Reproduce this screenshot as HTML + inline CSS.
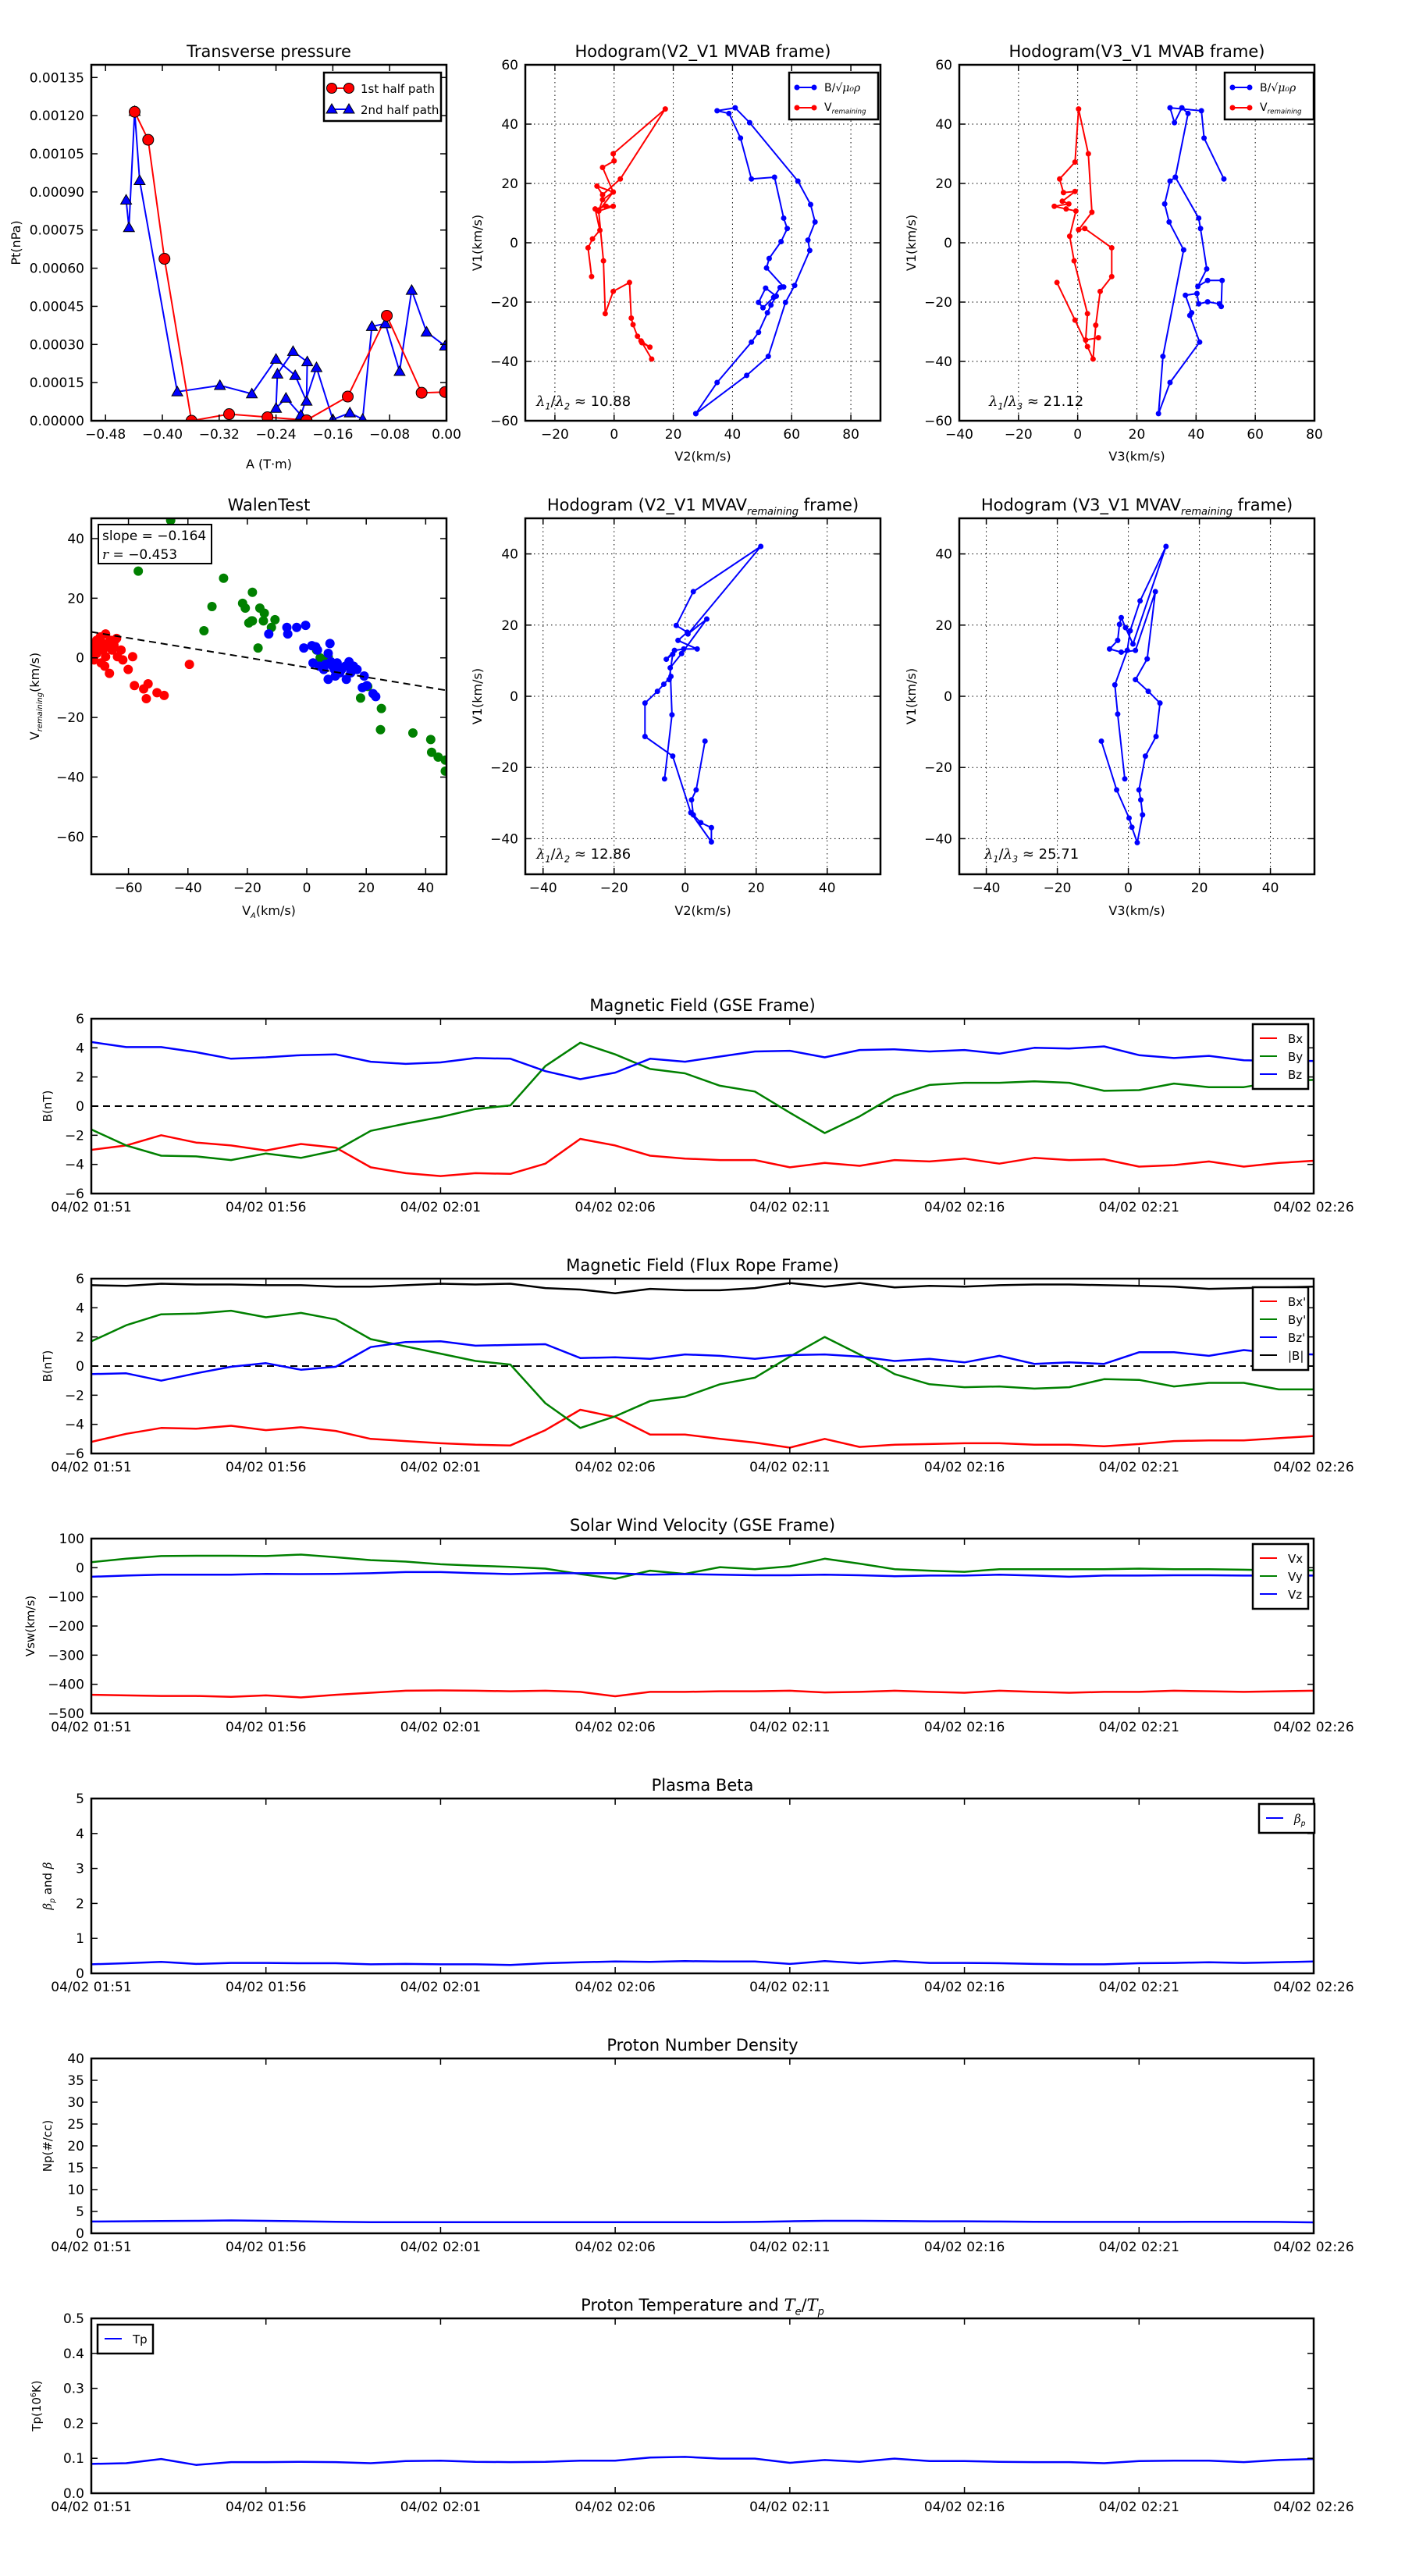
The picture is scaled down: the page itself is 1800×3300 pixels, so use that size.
<!DOCTYPE html>
<html><head><meta charset="utf-8"><title>Flux rope analysis</title>
<style>
html,body{margin:0;padding:0;background:#fff;}
svg{display:block;font-family:"DejaVu Sans","Liberation Sans",sans-serif;}
</style></head>
<body>
<svg id="fig" xmlns="http://www.w3.org/2000/svg" width="1800" height="3300" viewBox="0 0 1800 3300">
<rect x="0" y="0" width="1800" height="3300" fill="#fff"/>
</svg>
<script>
// ---------- data: transverse pressure ----------
const pt1A = [-0.439,-0.420,-0.397,-0.359,-0.306,-0.252,-0.197,-0.139,-0.084,-0.035,-0.002];
const pt1P = [0.001215,0.001105,0.000637,0.0,0.000026,0.000014,0.000002,0.000095,0.000413,0.000110,0.000113];
const pt2A = [-0.451,-0.447,-0.439,-0.432,-0.379,-0.319,-0.274,-0.240,-0.213,-0.197,-0.196,-0.216,-0.238,-0.240,-0.226,-0.205,-0.183,-0.160,-0.136,-0.118,-0.105,-0.086,-0.066,-0.049,-0.028,-0.002];
const pt2P = [0.000868,0.00076,0.001217,0.000945,0.000114,0.000139,0.000106,0.000242,0.000178,0.000077,0.000232,0.000273,0.000184,0.000049,0.000089,0.000022,0.000209,0.000005,0.000031,0.000006,0.000371,0.000382,0.000194,0.000513,0.000349,0.000294];
// ---------- hodogram MVAB V2-V1 ----------
const h1bV2 = [27.6,34.8,46.4,48.8,51.8,53.0,54.8,51.2,48.8,50.3,53.9,56.1,57.3,51.5,52.4,56.4,58.5,57.3,54.2,46.4,42.7,38.8,34.8,40.9,45.8,62.1,66.4,67.9,65.5,66.1,61.0,57.9,52.1,44.8,27.6];
const h1bV1 = [-57.6,-47.1,-33.5,-30.2,-23.6,-21.0,-18.0,-15.3,-20.1,-21.9,-18.4,-15.1,-14.9,-8.5,-5.3,0.4,4.8,8.3,22.1,21.5,35.3,43.6,44.5,45.5,40.5,20.8,12.9,7.0,0.9,-2.6,-14.4,-20.1,-38.3,-44.7,-57.6];
const h1rV2 = [-7.6,-8.8,-7.3,-4.8,-6.4,-2.7,-0.3,-5.2,-3.9,-0.3,-5.8,-3.9,2.1,17.3,-0.3,0.0,-3.9,-0.3,-5.2,-3.6,-3.0,-0.3,5.2,5.8,6.4,7.9,9.4,12.1,9.1,12.7];
const h1rV1 = [-11.4,-1.7,1.3,4.2,11.4,12.3,12.3,10.7,14.5,17.1,19.1,16.2,21.5,45.1,30.0,27.6,25.4,17.1,10.7,-6.1,-23.9,-16.4,-13.4,-25.4,-27.6,-31.5,-33.7,-35.2,-33.1,-39.2];
// ---------- hodogram MVAB V3-V1 ----------
const h2bV3 = [49.4,42.7,41.8,31.2,32.7,35.2,37.3,33.0,31.2,29.4,30.9,35.8,28.8,27.3,31.2,41.2,37.9,38.5,36.4,40.3,40.9,43.9,47.9,48.5,48.8,43.9,40.6,43.6,41.5,40.9,33.0];
const h2bV1 = [21.5,35.3,44.5,45.5,40.5,45.5,43.6,22.1,20.8,13.1,7.0,-2.4,-38.3,-57.6,-47.1,-33.5,-24.5,-23.6,-17.7,-17.1,-20.6,-19.9,-20.6,-21.5,-12.7,-12.7,-14.7,-8.8,4.8,8.3,22.1];
const h2rV3 = [-7.0,-0.9,3.3,5.2,6.1,7.6,11.5,11.5,2.4,0.3,4.8,3.6,0.3,-0.9,-6.1,-4.8,-0.9,-5.2,-3.0,-7.9,-3.9,-0.6,-2.7,-1.2,3.3,2.7,7.0];
const h2rV1 = [-13.4,-26.1,-35.0,-39.2,-27.8,-16.4,-11.4,-1.7,4.8,4.4,10.3,30.0,45.1,27.2,21.5,16.9,17.3,14.0,13.1,12.3,11.4,10.7,2.2,-6.1,-23.9,-32.8,-32.0];
// ---------- Walen test ----------
const wRedX = [-71.6,-70.7,-69.5,-68.6,-67.7,-67.0,-66.1,-65.5,-67.7,-69.2,-70.7,-71.9,-64.6,-64.0,-62.5,-61.9,-63.7,-68.0,-66.4,-60.1,-58.6,-58.0,-54.9,-53.4,-54.0,-50.4,-48.0,-39.5,-71.6,-70.1,-64.9,-68.3];
const wRedY = [4.8,5.9,7.0,2.6,8.0,3.7,5.9,2.6,0.4,-1.7,1.5,2.0,5.9,6.5,2.6,-0.7,0.4,-2.8,-5.2,-3.9,0.4,-9.3,-10.4,-8.7,-13.7,-11.7,-12.6,-2.2,-0.7,3.7,4.3,4.8];
const wGreenX = [-45.8,-56.7,-28.0,-31.9,-34.6,-21.6,-20.7,-18.3,-15.8,-14.3,-19.5,-18.3,-14.6,-10.7,-11.9,-16.4,3.3,4.5,5.7,18.1,20.5,25.1,24.8,35.7,41.7,42.0,44.2,46.6,46.6,2.7,7.2,-18.6];
const wGreenY = [46.1,29.1,26.7,17.2,9.1,18.3,16.7,22.0,16.7,15.0,11.7,12.4,12.4,12.8,10.2,3.3,2.6,0.0,-1.7,-13.5,-9.6,-17.0,-24.1,-25.2,-27.4,-31.7,-33.3,-34.3,-38.0,3.7,0.4,12.4];
const wBlueX = [-12.8,-6.7,-6.4,-3.4,-0.4,-1.0,1.7,3.0,3.6,7.8,7.2,2.1,4.2,6.3,8.1,9.3,10.2,11.7,13.0,14.2,14.8,9.6,7.2,13.3,16.9,19.3,20.2,18.7,22.3,23.2,5.7,11.1,8.7,15.7];
const wBlueY = [8.0,10.2,8.0,10.2,10.9,3.3,4.1,3.7,2.6,4.8,1.5,-1.7,-2.8,-2.2,-1.3,-3.9,-1.7,-3.9,-2.8,-1.3,-5.0,-6.1,-7.2,-7.2,-3.9,-6.1,-9.3,-10.0,-12.0,-13.0,-3.9,-5.0,-2.8,-2.8];
const walenSlope = -0.164;
const walenIntercept = -3.2;
// ---------- hodogram MVAV V2-V1 ----------
const h3V2 = [5.6,3.1,1.8,2.3,4.4,7.4,7.4,1.6,-3.5,-11.3,-11.3,-7.8,-6.0,-4.0,-4.5,-3.5,-5.3,-3.0,-0.4,3.4,-2.0,0.6,-2.5,2.3,21.3,0.8,6.1,-1.0,-4.2,-3.7,-5.8];
const h3V1 = [-12.6,-26.3,-29.1,-33.3,-35.5,-36.9,-40.9,-32.7,-16.8,-11.3,-1.9,1.4,3.4,5.6,4.7,11.8,10.4,12.9,13.3,13.3,15.7,18.0,19.9,29.4,42.1,17.5,21.7,12.0,8.0,-5.2,-23.2];
// ---------- hodogram MVAV V3-V1 ----------
const h4V3 = [-7.6,-3.3,0.2,1.0,2.5,4.0,3.5,3.0,4.8,7.8,8.9,5.6,2.0,5.3,7.6,2.0,-2.0,-5.3,-3.0,-2.5,-2.0,-0.8,1.3,10.6,3.3,0.5,-0.3,-3.8,-3.0,-1.0];
const h4V1 = [-12.6,-26.3,-34.2,-36.8,-41.1,-33.3,-29.1,-26.3,-16.8,-11.3,-1.9,1.4,4.7,10.5,29.4,12.9,12.4,13.3,15.7,20.2,22.1,19.3,14.7,42.1,26.8,18.4,12.9,3.2,-5.0,-23.2];
// ---------- time series (1-min samples from 01:51) ----------
const timeLabels = ["04/02 01:51","04/02 01:56","04/02 02:01","04/02 02:06","04/02 02:11","04/02 02:16","04/02 02:21","04/02 02:26"];
const gseBx = [-3.0,-2.7,-2.0,-2.5,-2.7,-3.05,-2.6,-2.85,-4.2,-4.6,-4.8,-4.6,-4.65,-3.95,-2.25,-2.7,-3.4,-3.6,-3.7,-3.7,-4.2,-3.9,-4.1,-3.7,-3.8,-3.6,-3.95,-3.55,-3.7,-3.65,-4.15,-4.05,-3.8,-4.15,-3.9,-3.75];
const gseBy = [-1.6,-2.7,-3.4,-3.45,-3.7,-3.25,-3.55,-3.05,-1.7,-1.2,-0.75,-0.2,0.05,2.75,4.35,3.55,2.55,2.25,1.4,1.0,-0.45,-1.85,-0.7,0.7,1.45,1.6,1.6,1.7,1.6,1.05,1.1,1.55,1.3,1.3,1.7,1.8];
const gseBz = [4.4,4.05,4.05,3.7,3.25,3.35,3.5,3.55,3.05,2.9,3.0,3.3,3.25,2.4,1.85,2.3,3.25,3.05,3.4,3.75,3.8,3.35,3.85,3.9,3.75,3.85,3.6,4.0,3.95,4.1,3.5,3.3,3.45,3.15,3.1,3.1];
const frBx = [-5.2,-4.65,-4.25,-4.3,-4.1,-4.4,-4.2,-4.45,-5.0,-5.15,-5.3,-5.4,-5.45,-4.4,-3.0,-3.5,-4.7,-4.7,-5.0,-5.25,-5.6,-5.0,-5.55,-5.4,-5.35,-5.3,-5.3,-5.4,-5.4,-5.5,-5.35,-5.15,-5.1,-5.1,-4.95,-4.8];
const frBy = [1.7,2.8,3.55,3.6,3.8,3.35,3.65,3.2,1.85,1.35,0.85,0.35,0.1,-2.55,-4.25,-3.45,-2.4,-2.1,-1.25,-0.8,0.65,2.0,0.8,-0.55,-1.25,-1.45,-1.4,-1.55,-1.45,-0.9,-0.95,-1.4,-1.15,-1.15,-1.6,-1.6];
const frBz = [-0.55,-0.5,-1.0,-0.5,-0.05,0.2,-0.25,-0.05,1.3,1.65,1.7,1.4,1.45,1.5,0.55,0.6,0.5,0.8,0.7,0.5,0.75,0.8,0.65,0.35,0.5,0.25,0.7,0.15,0.25,0.15,0.95,0.95,0.7,1.1,0.85,0.8];
const frBt = [5.55,5.5,5.65,5.6,5.6,5.55,5.55,5.45,5.45,5.55,5.65,5.6,5.65,5.35,5.25,5.0,5.3,5.2,5.2,5.35,5.7,5.45,5.7,5.4,5.5,5.45,5.55,5.6,5.6,5.55,5.5,5.45,5.3,5.35,5.4,5.45];
const vx = [-436,-438,-440,-440,-443,-438,-445,-436,-429,-422,-421,-422,-424,-422,-426,-441,-426,-426,-424,-424,-422,-428,-426,-422,-426,-429,-422,-426,-429,-426,-426,-422,-424,-426,-424,-422];
const vy = [19,31,40,41,41,40,45,36,26,21,12,7,3,-3,-22,-38,-10,-21,2,-5,5,31,14,-5,-10,-14,-5,-5,-5,-5,-3,-5,-5,-7,-9,-9];
const vz = [-31,-27,-24,-24,-24,-21,-22,-21,-19,-15,-15,-19,-22,-19,-19,-19,-24,-22,-24,-26,-26,-24,-26,-29,-27,-27,-24,-27,-31,-27,-27,-26,-26,-27,-27,-27];
const betaP = [0.26,0.29,0.33,0.27,0.30,0.30,0.29,0.29,0.26,0.27,0.26,0.26,0.24,0.29,0.32,0.34,0.33,0.35,0.34,0.34,0.27,0.35,0.29,0.35,0.30,0.30,0.29,0.27,0.26,0.26,0.29,0.30,0.32,0.30,0.32,0.34];
const np = [2.7,2.75,2.8,2.85,2.95,2.85,2.75,2.65,2.55,2.55,2.55,2.55,2.55,2.55,2.55,2.55,2.55,2.55,2.55,2.6,2.75,2.85,2.85,2.8,2.75,2.75,2.7,2.65,2.6,2.6,2.6,2.6,2.65,2.65,2.6,2.5];
const tp = [0.084,0.086,0.098,0.081,0.089,0.089,0.090,0.089,0.086,0.092,0.093,0.090,0.089,0.090,0.093,0.093,0.102,0.104,0.099,0.099,0.087,0.095,0.090,0.099,0.092,0.092,0.090,0.089,0.089,0.086,0.092,0.093,0.093,0.089,0.095,0.098];

const NS = "http://www.w3.org/2000/svg";
const svg = document.getElementById('fig');
let clipId = 0;
function mk(tag, attrs, parent, name) {
  const e = document.createElementNS(NS, tag);
  for (const k in attrs) e.setAttribute(k, attrs[k]);
  
  
  parent.appendChild(e);
  return e;
}
function txt(parent, x, y, s, size, anchor, name, extra) {
  const t = mk('text', Object.assign({x: x, y: y, 'font-size': size, 'text-anchor': anchor || 'middle', fill: '#000'}, extra || {}), parent, name);
  t.textContent = s;
  return t;
}
function richText(parent, x, y, parts, size, anchor, name, extra) {
  const t = mk('text', Object.assign({x: x, y: y, 'font-size': size, 'text-anchor': anchor || 'middle', fill: '#000'}, extra || {}), parent, name);
  parts.forEach(p => {
    const s = document.createElementNS(NS, 'tspan');
    s.textContent = p[0];
    if (p[1] === 'sub') { s.setAttribute('font-size', size * 0.62); s.setAttribute('font-style', 'italic'); s.setAttribute('dy', size * 0.25); }
    if (p[1] === 'up') { s.setAttribute('dy', -size * 0.25); }
    if (p[1] === 'it') { s.setAttribute('font-style', 'italic'); s.setAttribute('font-family', 'DejaVu Serif, serif'); }
    if (p[1] === 'sup') { s.setAttribute('font-size', size * 0.62); s.setAttribute('dy', -size * 0.4); }
    if (p[1] === 'down') { s.setAttribute('dy', size * 0.4); }
    
    
    t.appendChild(s);
  });
  return t;
}
function axes(o) {
  const g = mk('g', {}, svg, o.name);
  const sx = v => o.x + (v - o.xmin) / (o.xmax - o.xmin) * o.w;
  const sy = v => o.y + o.h - (v - o.ymin) / (o.ymax - o.ymin) * o.h;
  clipId++;
  const cp = mk('clipPath', {id: 'c' + clipId}, g, 'clip');
  mk('rect', {x: o.x, y: o.y, width: o.w, height: o.h}, cp, 'clip-rect');
  const grid = mk('g', {}, g, 'grid');
  const data = mk('g', {'clip-path': 'url(#c' + clipId + ')'}, g, 'plot-area');
  const tk = mk('g', {stroke: '#000', 'stroke-width': 1.5}, g, 'ticks');
  o.xticks.forEach((v, i) => {
    const X = sx(v);
    mk('line', {x1: X, x2: X, y1: o.y + o.h, y2: o.y + o.h - 8}, tk, 'x-tick');
    mk('line', {x1: X, x2: X, y1: o.y, y2: o.y + 8}, tk, 'x-tick-top');
    if (o.grid) mk('line', {x1: X, x2: X, y1: o.y, y2: o.y + o.h, stroke: '#000', 'stroke-width': 1, 'stroke-dasharray': '1.5,4'}, grid, 'x-grid');
    txt(g, X, o.y + o.h + 23, o.xfmt(v, i), 17, 'middle', 'x-tick-label');
  });
  o.yticks.forEach((v, i) => {
    const Y = sy(v);
    mk('line', {x1: o.x, x2: o.x + 8, y1: Y, y2: Y}, tk, 'y-tick');
    mk('line', {x1: o.x + o.w, x2: o.x + o.w - 8, y1: Y, y2: Y}, tk, 'y-tick-right');
    if (o.grid) mk('line', {x1: o.x, x2: o.x + o.w, y1: Y, y2: Y, stroke: '#000', 'stroke-width': 1, 'stroke-dasharray': '1.5,4'}, grid, 'y-grid');
    txt(g, o.x - 9, Y + 6, o.yfmt(v, i), 17, 'end', 'y-tick-label');
  });
  const frame = mk('rect', {x: o.x, y: o.y, width: o.w, height: o.h, fill: 'none', stroke: '#000', 'stroke-width': 2.5}, g, 'axes-frame');
  return {g, data, sx, sy, frame};
}
function line(ax, xs, ys, color, name, w, dash) {
  const pts = xs.map((v, i) => ax.sx(v).toFixed(1) + ',' + ax.sy(ys[i]).toFixed(1)).join(' ');
  const a = {points: pts, fill: 'none', stroke: color, 'stroke-width': w || 2, 'stroke-linejoin': 'round'};
  if (dash) a['stroke-dasharray'] = dash;
  return mk('polyline', a, ax.data, name);
}
function dots(ax, xs, ys, color, r, name, stroke) {
  xs.forEach((v, i) => {
    const a = {cx: ax.sx(v), cy: ax.sy(ys[i]), r: r, fill: color};
    if (stroke) { a.stroke = '#000'; a['stroke-width'] = 1; }
    mk('circle', a, ax.data, name);
  });
}
function tris(ax, xs, ys, color, s, name) {
  xs.forEach((v, i) => {
    const X = ax.sx(v), Y = ax.sy(ys[i]);
    mk('polygon', {points: `${X},${Y - s} ${X - s},${Y + s * 0.75} ${X + s},${Y + s * 0.75}`, fill: color, stroke: '#000', 'stroke-width': 1}, ax.data, name);
  });
}
function ylabel(x, y, parts, size, name) {
  const t = richText(svg, x, y, parts, size, 'middle', name, {transform: `rotate(-90 ${x} ${y})`});
  return t;
}
function range(a, b, s) { const r = []; for (let v = a; v <= b + 1e-9; v += s) r.push(+v.toFixed(6)); return r; }
function legendBox(x, y, w, h, name) {
  return mk('rect', {x: x, y: y, width: w, height: h, fill: '#fff', stroke: '#000', 'stroke-width': 2.5}, svg, name);
}

// ===== Row 1 =====
const C = [117, 673, 1229], W = 455;
const R1 = 83, R2 = 664, H = 456;

// Transverse pressure
txt(svg, C[0] + W / 2, R1 - 10, 'Transverse pressure', 21, 'middle', 'title-transverse-pressure');
const a1 = axes({name: 'transverse-pressure-chart', x: C[0], y: R1, w: W, h: H, xmin: -0.5, xmax: 0, ymin: 0, ymax: 0.0014,
  xticks: range(-0.48, 0, 0.08), yticks: range(0, 0.00135, 0.00015),
  xfmt: v => (v === 0 ? '0.00' : '\u2212' + Math.abs(v).toFixed(2)), yfmt: v => v.toFixed(5)});
line(a1, pt2A, pt2P, '#0000ff', 'second-half-path-line', 2);
line(a1, pt1A, pt1P, '#ff0000', 'first-half-path-line', 2);
tris(a1, pt2A, pt2P, '#0000ff', 7, 'second-half-marker');
dots(a1, pt1A, pt1P, '#ff0000', 7, 'first-half-marker', true);
txt(svg, C[0] + W / 2, 600, 'A (T\u00b7m)', 16, 'middle', 'x-axis-title-A');
ylabel(26, R1 + H / 2, [['Pt(nPa)']], 16, 'y-axis-title-pt');
legendBox(415, 93, 150, 62, 'legend-transverse');
mk('line', {x1: 425, x2: 447, y1: 113, y2: 113, stroke: '#ff0000', 'stroke-width': 2}, svg, 'legend-line-first');
mk('circle', {cx: 425, cy: 113, r: 6.5, fill: '#ff0000', stroke: '#000'}, svg, 'legend-marker-first');
mk('circle', {cx: 447, cy: 113, r: 6.5, fill: '#ff0000', stroke: '#000'}, svg, 'legend-marker-first');
txt(svg, 462, 119, '1st half path', 15, 'start', 'legend-entry-first');
mk('line', {x1: 425, x2: 447, y1: 140, y2: 140, stroke: '#0000ff', 'stroke-width': 2}, svg, 'legend-line-second');
mk('polygon', {points: '425,133 418,145 432,145', fill: '#0000ff', stroke: '#000'}, svg, 'legend-marker-second');
mk('polygon', {points: '447,133 440,145 454,145', fill: '#0000ff', stroke: '#000'}, svg, 'legend-marker-second');
txt(svg, 462, 146, '2nd half path', 15, 'start', 'legend-entry-second');

// Hodogram MVAB V2-V1
function hodoLegend(x, name) {
  legendBox(x, 93, 114, 60, name);
  mk('line', {x1: x + 10, x2: x + 32, y1: 112, y2: 112, stroke: '#0000ff', 'stroke-width': 2}, svg, 'legend-line-b');
  mk('circle', {cx: x + 10, cy: 112, r: 3.5, fill: '#0000ff'}, svg, 'legend-marker-b');
  mk('circle', {cx: x + 32, cy: 112, r: 3.5, fill: '#0000ff'}, svg, 'legend-marker-b');
  richText(svg, x + 45, 117, [['B/\u221a'], ['\u03bc\u2080\u03c1', 'it']], 14, 'start', 'legend-entry-b');
  mk('line', {x1: x + 10, x2: x + 32, y1: 138, y2: 138, stroke: '#ff0000', 'stroke-width': 2}, svg, 'legend-line-v');
  mk('circle', {cx: x + 10, cy: 138, r: 3.5, fill: '#ff0000'}, svg, 'legend-marker-v');
  mk('circle', {cx: x + 32, cy: 138, r: 3.5, fill: '#ff0000'}, svg, 'legend-marker-v');
  richText(svg, x + 45, 142, [['V'], ['remaining', 'sub']], 14, 'start', 'legend-entry-v');
}
txt(svg, C[1] + W / 2, R1 - 10, 'Hodogram(V2_V1 MVAB frame)', 21, 'middle', 'title-hodogram-v2-mvab');
const a2 = axes({name: 'hodogram-v2-mvab', x: C[1], y: R1, w: W, h: H, xmin: -30, xmax: 90, ymin: -60, ymax: 60, grid: true,
  xticks: range(-20, 80, 20), yticks: range(-60, 60, 20), xfmt: v => (v < 0 ? '\u2212' + (-v) : '' + v), yfmt: v => (v < 0 ? '\u2212' + (-v) : '' + v)});
line(a2, h1bV2, h1bV1, '#0000ff', 'b-hodogram-line', 2);
dots(a2, h1bV2, h1bV1, '#0000ff', 3.5, 'b-hodogram-point');
line(a2, h1rV2, h1rV1, '#ff0000', 'v-hodogram-line', 2);
dots(a2, h1rV2, h1rV1, '#ff0000', 3.5, 'v-hodogram-point');
richText(svg, C[1] + 14, 520, [['\u03bb', 'it'], ['1', 'sub'], ['/', 'up'], ['\u03bb', 'it'], ['2', 'sub'], [' \u2248 10.88', 'up']], 18, 'start', 'eigen-ratio-1');
txt(svg, C[1] + W / 2, 590, 'V2(km/s)', 16, 'middle', 'x-axis-title-v2');
ylabel(617, R1 + H / 2, [['V1(km/s)']], 16, 'y-axis-title-v1');
hodoLegend(1011, 'legend-hodogram-1');

txt(svg, C[2] + W / 2, R1 - 10, 'Hodogram(V3_V1 MVAB frame)', 21, 'middle', 'title-hodogram-v3-mvab');
const a3 = axes({name: 'hodogram-v3-mvab', x: C[2], y: R1, w: W, h: H, xmin: -40, xmax: 80, ymin: -60, ymax: 60, grid: true,
  xticks: range(-40, 80, 20), yticks: range(-60, 60, 20), xfmt: v => (v < 0 ? '\u2212' + (-v) : '' + v), yfmt: v => (v < 0 ? '\u2212' + (-v) : '' + v)});
line(a3, h2bV3, h2bV1, '#0000ff', 'b-hodogram-line', 2);
dots(a3, h2bV3, h2bV1, '#0000ff', 3.5, 'b-hodogram-point');
line(a3, h2rV3, h2rV1, '#ff0000', 'v-hodogram-line', 2);
dots(a3, h2rV3, h2rV1, '#ff0000', 3.5, 'v-hodogram-point');
richText(svg, C[2] + 38, 520, [['\u03bb', 'it'], ['1', 'sub'], ['/', 'up'], ['\u03bb', 'it'], ['3', 'sub'], [' \u2248 21.12', 'up']], 18, 'start', 'eigen-ratio-2');
txt(svg, C[2] + W / 2, 590, 'V3(km/s)', 16, 'middle', 'x-axis-title-v3');
ylabel(1173, R1 + H / 2, [['V1(km/s)']], 16, 'y-axis-title-v1b');
hodoLegend(1569, 'legend-hodogram-2');

// ===== Row 2 =====
txt(svg, C[0] + W / 2, R2 - 10, 'WalenTest', 21, 'middle', 'title-walen-test');
const a4 = axes({name: 'walen-test-chart', x: C[0], y: R2, w: W, h: H, xmin: -72.5, xmax: 47, ymin: -72.6, ymax: 46.8,
  xticks: range(-60, 40, 20), yticks: range(-60, 40, 20), xfmt: v => (v < 0 ? '\u2212' + (-v) : '' + v), yfmt: v => (v < 0 ? '\u2212' + (-v) : '' + v)});
dots(a4, wRedX, wRedY, '#ff0000', 6, 'walen-point-red');
dots(a4, wGreenX, wGreenY, '#008000', 6, 'walen-point-green');
dots(a4, wBlueX, wBlueY, '#0000ff', 6, 'walen-point-blue');
line(a4, [-72.5, 47], [walenIntercept + walenSlope * -72.5, walenIntercept + walenSlope * 47], '#000', 'walen-fit-line', 2, '9,6');
mk('rect', {x: 126, y: 672, width: 145, height: 50, fill: '#fff', stroke: '#000', 'stroke-width': 2}, svg, 'walen-stats-box');
txt(svg, 131, 692, 'slope = \u22120.164', 17, 'start', 'walen-slope');
richText(svg, 131, 716, [['r', 'it'], [' = \u22120.453']], 17, 'start', 'walen-r');
richText(svg, C[0] + W / 2, 1172, [['V'], ['A', 'sub'], ['(km/s)', 'up']], 16, 'middle', 'x-axis-title-va');
ylabel(50, R2 + H / 2, [['V'], ['remaining', 'sub'], ['(km/s)', 'up']], 16, 'y-axis-title-vrem');

richText(svg, C[1] + W / 2, R2 - 10, [['Hodogram (V2_V1 MVAV'], ['remaining', 'sub'], [' frame)', 'up']], 21, 'middle', 'title-hodogram-v2-mvav');
const a5 = axes({name: 'hodogram-v2-mvav', x: C[1], y: R2, w: W, h: H, xmin: -45, xmax: 55, ymin: -50, ymax: 50, grid: true,
  xticks: range(-40, 40, 20), yticks: range(-40, 40, 20), xfmt: v => (v < 0 ? '\u2212' + (-v) : '' + v), yfmt: v => (v < 0 ? '\u2212' + (-v) : '' + v)});
line(a5, h3V2, h3V1, '#0000ff', 'mvav-hodogram-line', 2);
dots(a5, h3V2, h3V1, '#0000ff', 3.5, 'mvav-hodogram-point');
richText(svg, C[1] + 14, 1100, [['\u03bb', 'it'], ['1', 'sub'], ['/', 'up'], ['\u03bb', 'it'], ['2', 'sub'], [' \u2248 12.86', 'up']], 18, 'start', 'eigen-ratio-3');
txt(svg, C[1] + W / 2, 1172, 'V2(km/s)', 16, 'middle', 'x-axis-title-v2b');
ylabel(617, R2 + H / 2, [['V1(km/s)']], 16, 'y-axis-title-v1c');

richText(svg, C[2] + W / 2, R2 - 10, [['Hodogram (V3_V1 MVAV'], ['remaining', 'sub'], [' frame)', 'up']], 21, 'middle', 'title-hodogram-v3-mvav');
const a6 = axes({name: 'hodogram-v3-mvav', x: C[2], y: R2, w: W, h: H, xmin: -47.6, xmax: 52.4, ymin: -50, ymax: 50, grid: true,
  xticks: range(-40, 40, 20), yticks: range(-40, 40, 20), xfmt: v => (v < 0 ? '\u2212' + (-v) : '' + v), yfmt: v => (v < 0 ? '\u2212' + (-v) : '' + v)});
line(a6, h4V3, h4V1, '#0000ff', 'mvav-hodogram-line', 2);
dots(a6, h4V3, h4V1, '#0000ff', 3.5, 'mvav-hodogram-point');
richText(svg, C[2] + 32, 1100, [['\u03bb', 'it'], ['1', 'sub'], ['/', 'up'], ['\u03bb', 'it'], ['3', 'sub'], [' \u2248 25.71', 'up']], 18, 'start', 'eigen-ratio-4');
txt(svg, C[2] + W / 2, 1172, 'V3(km/s)', 16, 'middle', 'x-axis-title-v3b');
ylabel(1173, R2 + H / 2, [['V1(km/s)']], 16, 'y-axis-title-v1d');

// ===== Time series =====
const TL = 117, TW = 1566, TH = 224;
const tops = [1305, 1638, 1971, 2304, 2637, 2970];
const mins = gseBx.map((_, i) => i);
function tsAxes(k, name, ymin, ymax, yt, yfmt) {
  return axes({name: name, x: TL, y: tops[k], w: TW, h: TH, xmin: 0, xmax: 35, ymin: ymin, ymax: ymax,
    xticks: range(0, 35, 5), yticks: yt, xfmt: (v, i) => timeLabels[i], yfmt: yfmt});
}
const neg = v => (v < 0 ? '\u2212' + (-v) : '' + v);
function tsLegend(x, y, entries, name) {
  const w = 71, h = 14 + entries.length * 23;
  legendBox(x, y, w, h, name);
  entries.forEach((e, i) => {
    const yy = y + 18 + i * 23;
    mk('line', {x1: x + 9, x2: x + 31, y1: yy, y2: yy, stroke: e[1], 'stroke-width': 2}, svg, 'legend-line');
    const t = richText(svg, x + 45, yy + 6, e[0], 15, 'start', 'legend-entry');
  });
}

txt(svg, TL + TW / 2, tops[0] - 10, 'Magnetic Field (GSE Frame)', 21, 'middle', 'title-b-gse');
const t1 = tsAxes(0, 'b-gse-chart', -6, 6, range(-6, 6, 2), neg);
line(t1, [0, 35], [0, 0], '#000', 'zero-line', 2, '9,6');
line(t1, mins, gseBx, '#ff0000', 'bx-line', 2.5);
line(t1, mins, gseBy, '#008000', 'by-line', 2.5);
line(t1, mins, gseBz, '#0000ff', 'bz-line', 2.5);
ylabel(66, tops[0] + TH / 2, [['B(nT)']], 15, 'y-axis-title-b');
tsLegend(1605, 1312, [[[['Bx']], '#ff0000'], [[['By']], '#008000'], [[['Bz']], '#0000ff']], 'legend-b-gse');

txt(svg, TL + TW / 2, tops[1] - 10, 'Magnetic Field (Flux Rope Frame)', 21, 'middle', 'title-b-fluxrope');
const t2 = tsAxes(1, 'b-fluxrope-chart', -6, 6, range(-6, 6, 2), neg);
line(t2, [0, 35], [0, 0], '#000', 'zero-line', 2, '9,6');
line(t2, mins, frBx, '#ff0000', 'bx-prime-line', 2.5);
line(t2, mins, frBy, '#008000', 'by-prime-line', 2.5);
line(t2, mins, frBz, '#0000ff', 'bz-prime-line', 2.5);
line(t2, mins, frBt, '#000000', 'btotal-line', 2.5);
ylabel(66, tops[1] + TH / 2, [['B(nT)']], 15, 'y-axis-title-b2');
tsLegend(1605, 1649, [[[["Bx'"]], '#ff0000'], [[["By'"]], '#008000'], [[["Bz'"]], '#0000ff'], [[['|B|']], '#000000']], 'legend-b-fluxrope');

txt(svg, TL + TW / 2, tops[2] - 10, 'Solar Wind Velocity (GSE Frame)', 21, 'middle', 'title-vsw');
const t3 = tsAxes(2, 'vsw-chart', -500, 100, range(-500, 100, 100), neg);
line(t3, mins, vx, '#ff0000', 'vx-line', 2.5);
line(t3, mins, vy, '#008000', 'vy-line', 2.5);
line(t3, mins, vz, '#0000ff', 'vz-line', 2.5);
ylabel(44, tops[2] + TH / 2, [['Vsw(km/s)']], 15, 'y-axis-title-vsw');
tsLegend(1605, 1978, [[[['Vx']], '#ff0000'], [[['Vy']], '#008000'], [[['Vz']], '#0000ff']], 'legend-vsw');

txt(svg, TL + TW / 2, tops[3] - 10, 'Plasma Beta', 21, 'middle', 'title-beta');
const t4 = tsAxes(3, 'beta-chart', 0, 5, range(0, 5, 1), v => '' + v);
line(t4, mins, betaP, '#0000ff', 'beta-line', 2.5);
ylabel(66, tops[3] + TH / 2, [['\u03b2', 'it'], ['p', 'sub'], [' and ', 'up'], ['\u03b2', 'it']], 15, 'y-axis-title-beta');
tsLegend(1613, 2311, [[[['\u03b2', 'it'], ['p', 'sub']], '#0000ff']], 'legend-beta');

txt(svg, TL + TW / 2, tops[4] - 10, 'Proton Number Density', 21, 'middle', 'title-np');
const t5 = tsAxes(4, 'np-chart', 0, 40, range(0, 40, 5), v => '' + v);
line(t5, mins, np, '#0000ff', 'np-line', 2.5);
ylabel(66, tops[4] + TH / 2, [['Np(#/cc)']], 15, 'y-axis-title-np');

richText(svg, TL + TW / 2, tops[5] - 10, [['Proton Temperature and '], ['T', 'it'], ['e', 'sub'], ['/', 'up'], ['T', 'it'], ['p', 'sub']], 21, 'middle', 'title-tp');
const t6 = tsAxes(5, 'tp-chart', 0, 0.5, range(0, 0.5, 0.1), v => v.toFixed(1));
line(t6, mins, tp, '#0000ff', 'tp-line', 2.5);
ylabel(52, tops[5] + TH / 2, [['Tp(10'], ['6', 'sup'], ['K)', 'down']], 15, 'y-axis-title-tp');
tsLegend(125, 2978, [[[['Tp']], '#0000ff']], 'legend-tp');
</script>
</body></html>
